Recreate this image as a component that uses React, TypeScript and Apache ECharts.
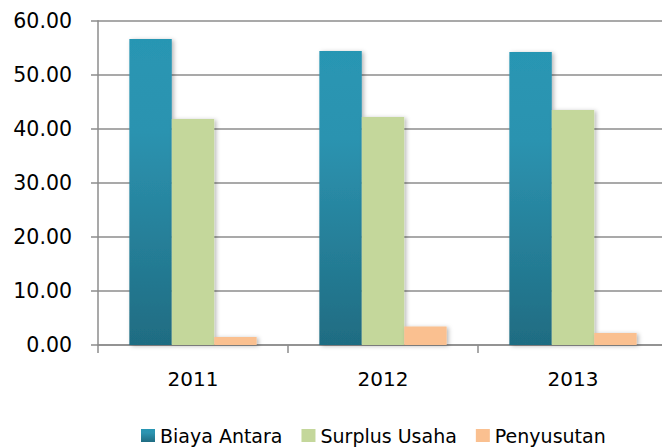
import React, { useEffect, useRef } from "react";
import * as echarts from "echarts";

const categories = ["2011", "2012", "2013"];
const seriesNames = ["Biaya Antara", "Surplus Usaha", "Penyusutan"];
const biayaAntara = [56.6, 54.4, 54.2];
const surplusUsaha = [41.8, 42.2, 43.5];
const penyusutan = [1.5, 3.4, 2.2];
const yTicks = [0, 10, 20, 30, 40, 50, 60];

const FONT = "DejaVu Sans";
const GRID_COLOR = "#8c8c8c";

export default function App() {
  const ref = useRef<HTMLDivElement>(null);
  useEffect(() => {
    document.body.style.margin = "0";
    const chart = echarts.init(ref.current!, null, { renderer: "svg" });
    const shadow = {
      shadowBlur: 4,
      shadowColor: "rgba(0,0,0,0.28)",
      shadowOffsetX: 2,
      shadowOffsetY: 1,
    };
    chart.setOption({
      animation: false,
      backgroundColor: "#ffffff",
      grid: {
        left: 98,
        top: 20.7,
        width: 570,
        height: 324.3,
        containLabel: false,
        outerBoundsMode: "none",
      },
      legend: {
        data: seriesNames,
        left: 141,
        top: 426,
        padding: 0,
        icon: "rect",
        itemWidth: 14,
        itemHeight: 13,
        itemGap: 19,
        textStyle: { fontFamily: FONT, fontSize: 19, color: "#000" },
      },
      xAxis: {
        type: "category",
        data: categories,
        axisLine: { show: true, lineStyle: { color: GRID_COLOR, width: 1.5 } },
        axisTick: { show: true, interval: 0, length: 8, lineStyle: { color: GRID_COLOR, width: 1.5 } },
        axisLabel: { fontFamily: FONT, fontSize: 20, color: "#000", margin: 24 },
        splitLine: { show: false },
      },
      yAxis: {
        type: "value",
        min: yTicks[0],
        max: yTicks[yTicks.length - 1],
        interval: 10,
        axisLine: { show: true, lineStyle: { color: GRID_COLOR, width: 1.5 } },
        axisTick: { show: true, length: 7, lineStyle: { color: GRID_COLOR, width: 1.5 } },
        axisLabel: {
          fontFamily: FONT,
          fontSize: 20.5,
          color: "#000",
          margin: 26,
          formatter: (v: number) => v.toFixed(2),
        },
        splitLine: { show: true, lineStyle: { color: GRID_COLOR, width: 1.5 } },
      },
      series: [
        {
          name: seriesNames[0],
          type: "bar",
          data: biayaAntara,
          barGap: "0%",
          barCategoryGap: "33%",
          itemStyle: {
            color: new echarts.graphic.LinearGradient(0, 0, 0, 1, [
              { offset: 0, color: "#2896b3" },
              { offset: 0.3, color: "#2c93b0" },
              { offset: 1, color: "#1f6c82" },
            ]),
            ...shadow,
          },
        },
        {
          name: seriesNames[1],
          type: "bar",
          data: surplusUsaha,
          barGap: "0%",
          barCategoryGap: "33%",
          itemStyle: { color: "#c4d79b", ...shadow },
        },
        {
          name: seriesNames[2],
          type: "bar",
          data: penyusutan,
          barGap: "0%",
          barCategoryGap: "33%",
          itemStyle: { color: "#fac090", ...shadow },
        },
      ],
    });
    return () => chart.dispose();
  }, []);
  return (
    <div
      ref={ref}
      style={{ position: "absolute", left: 0, top: 0, width: 662, height: 448, overflow: "hidden" }}
    />
  );
}
